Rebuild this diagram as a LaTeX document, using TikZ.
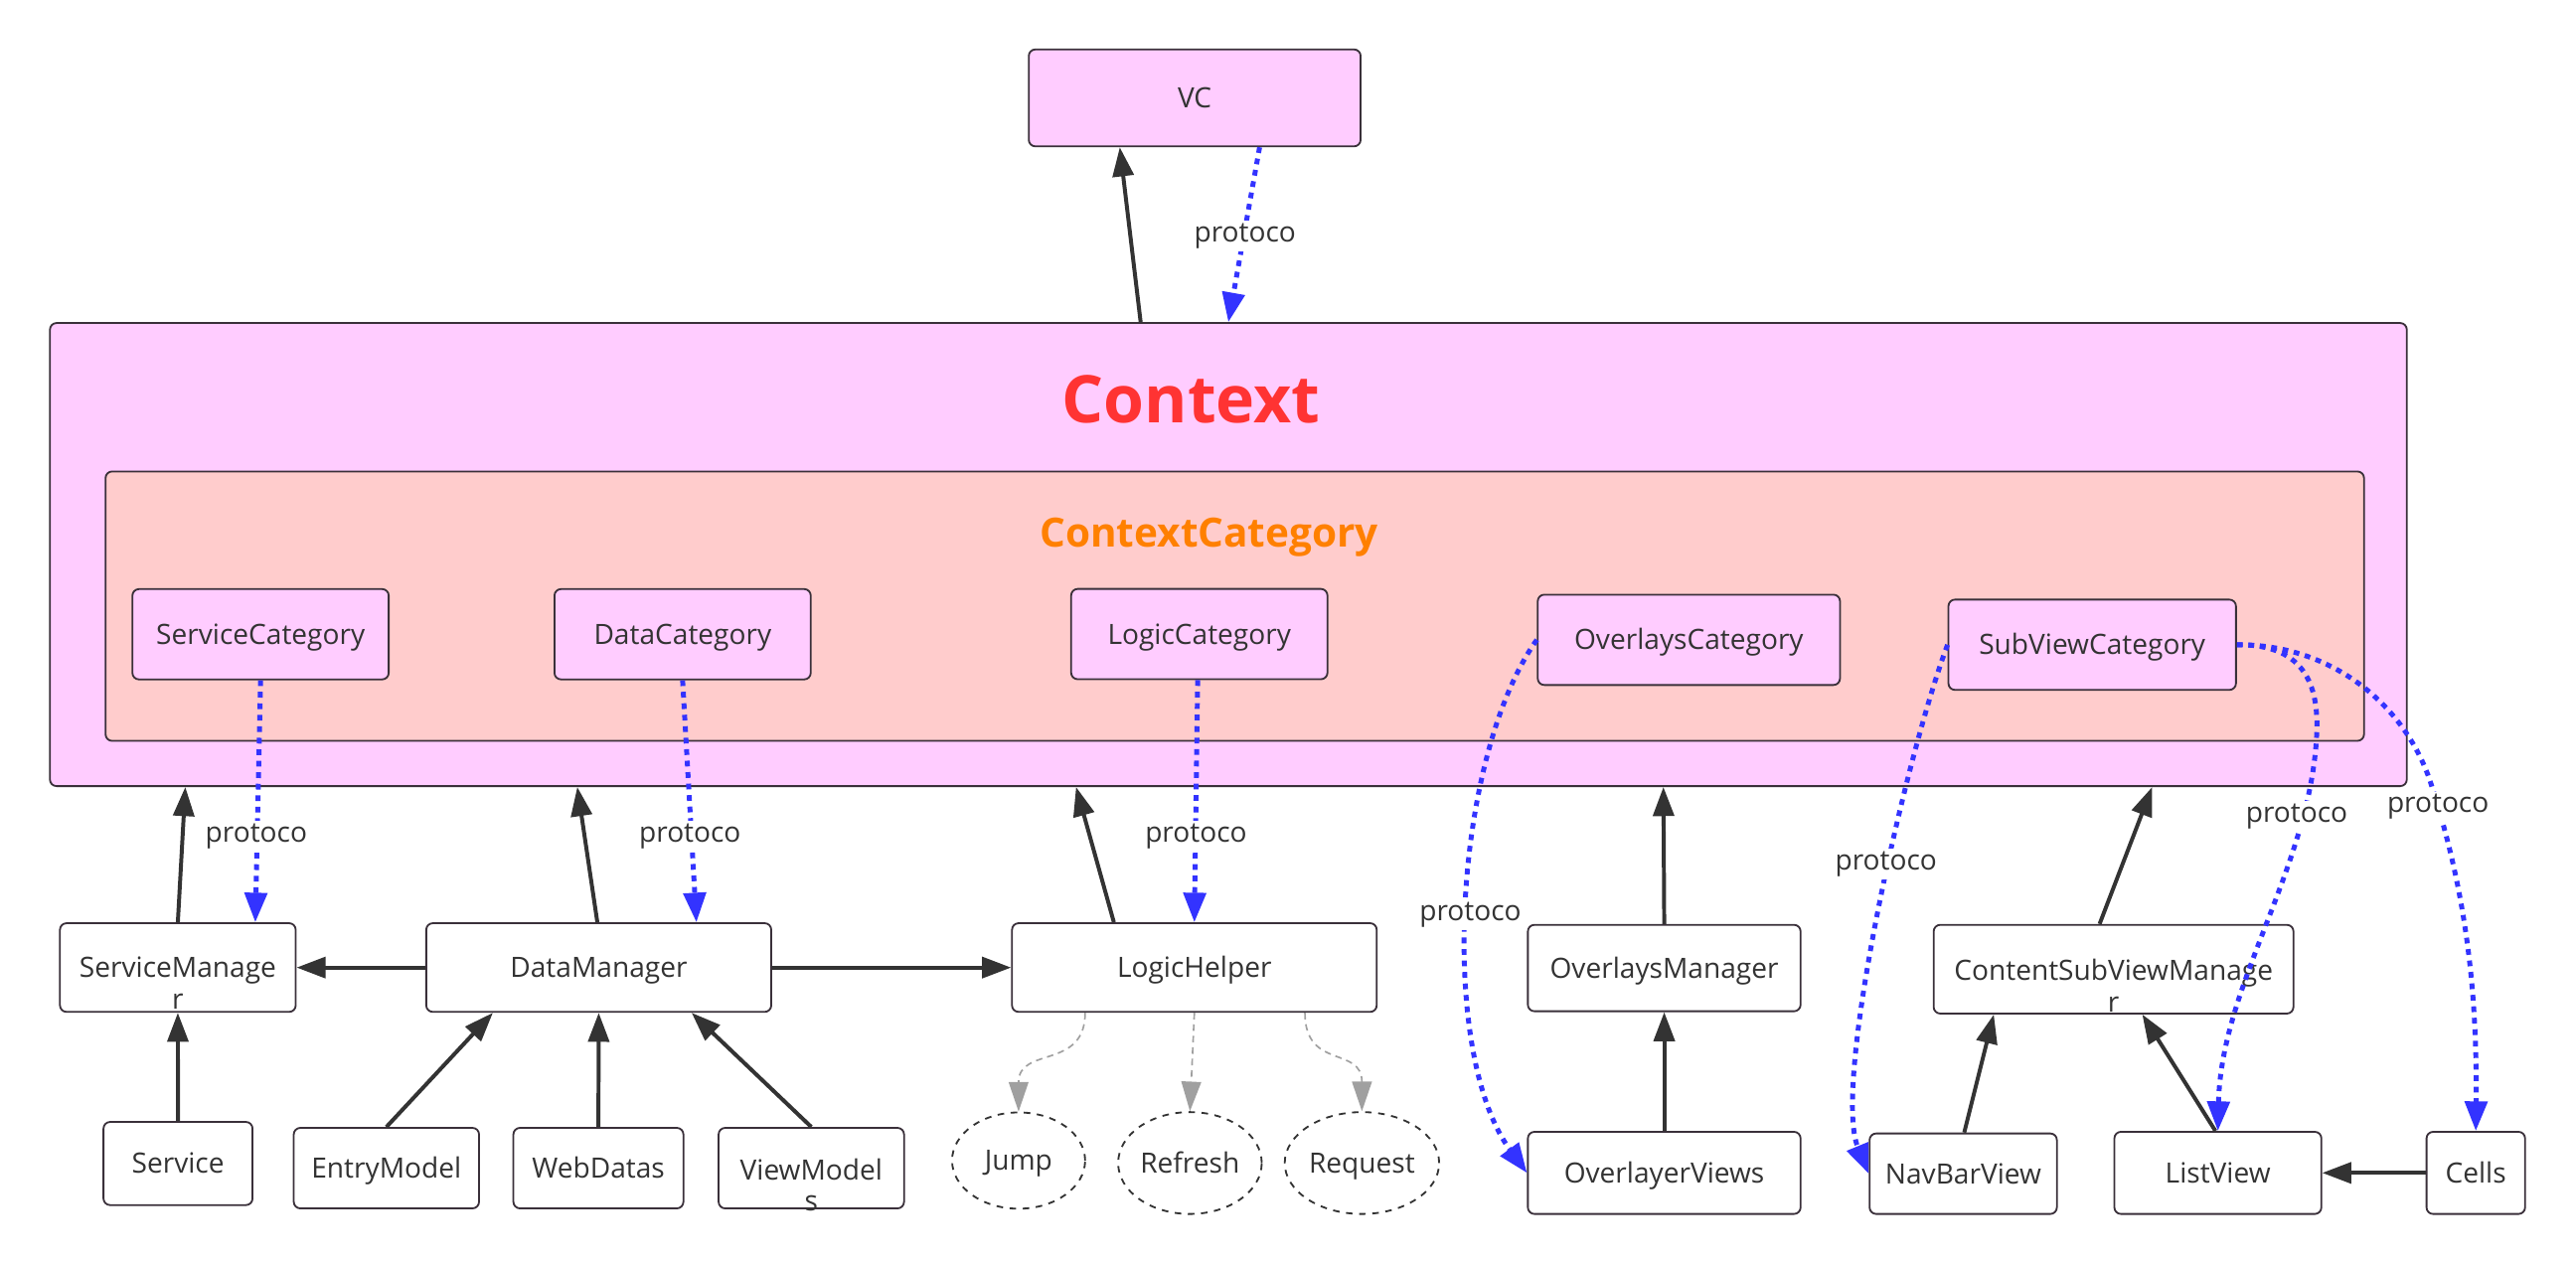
\documentclass[tikz,border=0pt]{standalone}
\usepackage{fontspec}
\setmainfont{Open Sans}
\usetikzlibrary{arrows.meta,shapes.geometric}
\definecolor{pinkbg}{HTML}{FFCCFF}
\definecolor{salmonbg}{HTML}{FFCCCC}
\definecolor{bord}{HTML}{3A303A}
\definecolor{ink}{HTML}{333333}
\definecolor{protoblue}{HTML}{3333FF}
\definecolor{ctxred}{HTML}{FF3333}
\definecolor{ctxorange}{HTML}{FF8000}
\definecolor{grayarrow}{HTML}{A0A0A0}
\begin{document}
\begin{tikzpicture}[x=1pt,y=-1pt,
  every node/.style={font=\fontsize{17}{19}\selectfont, text=ink, inner sep=0pt},
  sz/.style 2 args={minimum width=#1pt, minimum height=#2pt},
  box/.style={draw=bord, line width=1.1pt, rounded corners=4pt, fill=white, text height=12.2pt, text depth=0pt},
  pbox/.style={box, fill=pinkbg},
  multitext/.style={align=center, font=\fontsize{17}{19}\selectfont},
  ell/.style={ellipse, draw=ink, line width=1.1pt, dash pattern=on 4pt off 4pt, text height=12.2pt, text depth=0pt},
  blk/.style={draw=ink, line width=2.4pt, -{Triangle[length=17.7pt,width=12.7pt]}},
  protoline/.style={draw=protoblue, line width=3pt, dash pattern=on 3.5pt off 3.5pt, -{Triangle[length=18pt,width=13.5pt]}},
  grarrow/.style={draw=grayarrow, line width=1pt, dash pattern=on 4pt off 3pt, -{Triangle[length=18pt,width=12pt]}},
  lbl/.style={fill=white, inner sep=1.5pt},
]
\useasboundingbox (0,0) rectangle (1568,769.5);

% containers
\node[pbox, sz={1434.6}{281.9}] (ctx) at (747.7,337.6) {};
\node[box, fill=salmonbg, sz={1374.7}{164}] (cat) at (751.6,369) {};
\node[font=\bfseries\fontsize{40}{44}\selectfont, text=ctxred] (ctxtitle) at (725,243) {Context};
\node[font=\bfseries\fontsize{24.5}{28}\selectfont, text=ctxorange, anchor=base] (cattitle) at (736,333) {ContextCategory};

% top
\node[pbox, sz={202}{59}] (vc) at (727.2,59.6) {VC};

% categories
\node[pbox, sz={156}{55}] (sc) at (158.6,386.1) {ServiceCategory};
\node[pbox, sz={156}{55}] (dc) at (415.5,386.1) {DataCategory};
\node[pbox, sz={156}{55}] (lc) at (730,386) {LogicCategory};
\node[pbox, sz={184}{55}] (oc) at (1028,389.5) {OverlaysCategory};
\node[pbox, sz={175}{55}] (svc) at (1273.5,392.5) {SubViewCategory};

% managers
\node[box, sz={143.5}{54}] (sm) at (108.25,589) {};
\node[multitext] (smtxt) at (108.25,598.4) {ServiceManage\\r};
\node[box, sz={210}{54}] (dm) at (364.45,589) {DataManager};
\node[box, sz={222}{54}] (lh) at (727,589) {LogicHelper};
\node[box, sz={166}{52.6}] (om) at (1013,589.3) {OverlaysManager};
\node[box, sz={219}{54}] (csm) at (1286.5,590) {};
\node[multitext] (csmtxt) at (1286.5,600) {ContentSubViewManage\\r};

% leaves
\node[box, sz={90.7}{50.6}] (srv) at (108.35,708.3) {Service};
\node[box, sz={112.8}{49}] (em) at (235.2,711.1) {EntryModel};
\node[box, sz={103.5}{49}] (wd) at (364.25,711.1) {WebDatas};
\node[box, sz={112.9}{49}] (vm) at (493.85,711.1) {};
\node[multitext] (vmtxt) at (493.85,721.4) {ViewModel\\s};
\node[ell, sz={81}{58.6}] (jump) at (620,706.5) {Jump};
\node[ell, sz={87.4}{62}] (refresh) at (724.3,708) {Refresh};
\node[ell, sz={94}{62}] (request) at (829,708) {Request};
\node[box, sz={166}{50}] (ov) at (1013,714) {OverlayerViews};
\node[box, sz={114}{49}] (nb) at (1195,714.5) {NavBarView};
\node[box, sz={126}{50}] (lv) at (1350,714) {ListView};
\node[box, sz={60}{50}] (cells) at (1507,714) {Cells};

% black arrows
\draw[blk] ([xshift=-53.4pt]ctx.north) -- ([xshift=-45.6pt]vc.south);
\draw[blk] (sm.north) -- ([xshift=-634.9pt]ctx.south);
\draw[blk] ([xshift=-0.85pt]dm.north) -- ([xshift=-396.3pt]ctx.south);
\draw[blk] ([xshift=-49pt]lh.north) -- ([xshift=-92.7pt]ctx.south);
\draw[blk] (om.north) -- ([xshift=264.8pt]ctx.south);
\draw[blk] (ov.north) -- (om.south);
\draw[blk] ([xshift=-8.5pt]csm.north) -- ([xshift=562.3pt]ctx.south);
\draw[blk] ([xshift=0.6pt]nb.north) -- ([xshift=-72.9pt]csm.south);
\draw[blk] ([xshift=-1.5pt]lv.north) -- ([xshift=17.5pt]csm.south);
\draw[blk] (cells.west) -- (lv.east);
\draw[blk] (dm.west) -- (sm.east);
\draw[blk] (dm.east) -- (lh.west);
\draw[blk] (srv.north) -- (sm.south);
\draw[blk] (em.north) -- ([xshift=-64.45pt]dm.south);
\draw[blk] (wd.north) -- (dm.south);
\draw[blk] (vm.north) -- ([xshift=56.55pt]dm.south);

% gray dashed arrows
\draw[grarrow] ([xshift=-66.5pt]lh.south) .. controls +(0,35) and +(0,-40) .. (jump.north);
\draw[grarrow] (lh.south) -- (refresh.north);
\draw[grarrow] ([xshift=67.3pt]lh.south) .. controls +(0,35) and +(0,-40) .. (request.north);

% blue protocol arrows
\draw[protoline] ([xshift=39.5pt]vc.south) -- (ctx.north);
\draw[protoline] (sc.south) -- ([xshift=47.15pt]sm.north);
\draw[protoline] (dc.south) -- ([xshift=59.45pt]dm.north);
\draw[protoline] ([xshift=-1pt]lc.south) -- (lh.north);
\draw[protoline] (oc.west) .. controls (885,460) and (875,640) .. (ov.west);
\draw[protoline] (svc.west) .. controls (1160,460) and (1115,660) .. (nb.west);
\draw[protoline] (svc.east) .. controls (1405,392) and (1412,420) .. (1410,450) .. controls (1405,530) and (1352,600) .. (lv.north);
\draw[protoline] (svc.east) .. controls (1420,392) and (1465,430) .. (1480,478) .. controls (1500,540) and (1508,600) .. (cells.north);

% labels
\node[lbl] (l1) at (757.8,143.6) {protoco};
\node[lbl] (l2) at (156,509) {protoco};
\node[lbl] (l3) at (420,509) {protoco};
\node[lbl] (l4) at (728,509) {protoco};
\node[lbl] (l5) at (895,557) {protoco};
\node[lbl] (l6) at (1148,526) {protoco};
\node[lbl] (l7) at (1398,497) {protoco};
\node[lbl] (l8) at (1484,491) {protoco};
\end{tikzpicture}
\end{document}
